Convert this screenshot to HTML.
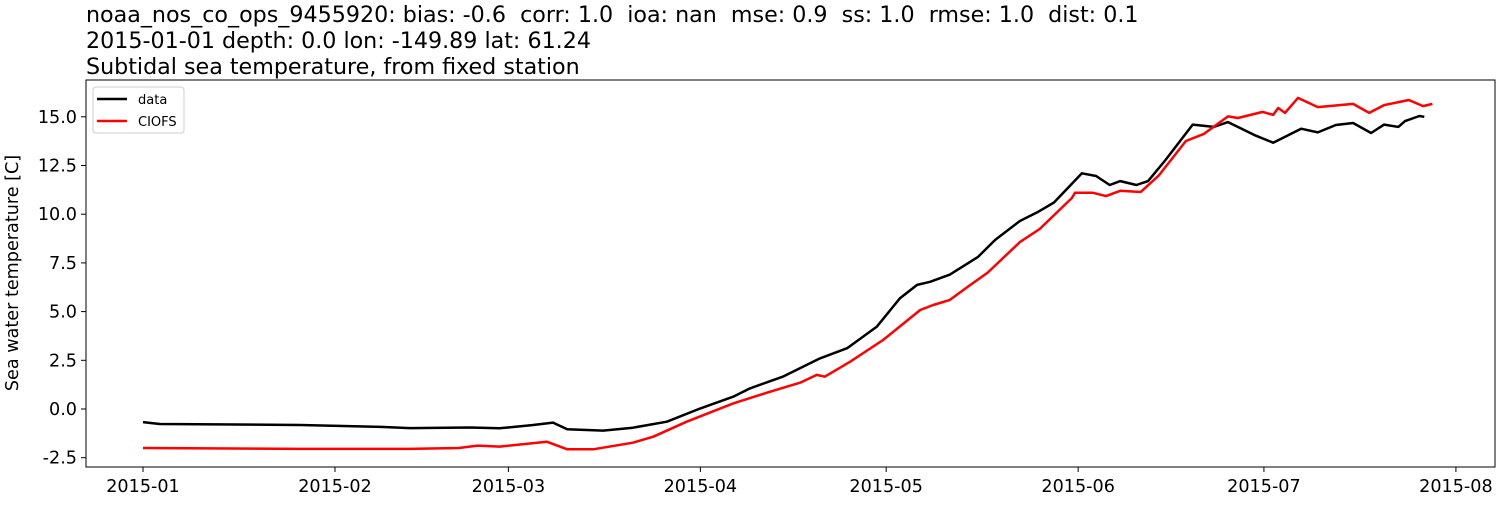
<!DOCTYPE html>
<html><head><meta charset="utf-8"><style>
body{margin:0;background:#fff;font-family:"Liberation Sans","DejaVu Sans",sans-serif;}
svg text{font-family:"DejaVu Sans","Liberation Sans",sans-serif;white-space:pre;}
</style></head><body>
<svg id="chart" width="1500" height="500" xmlns="http://www.w3.org/2000/svg" xml:space="preserve">
<text x="86" y="22" font-size="22.2">noaa_nos_co_ops_9455920: bias: -0.6  corr: 1.0  ioa: nan  mse: 0.9  ss: 1.0  rmse: 1.0  dist: 0.1</text>
<text x="86" y="48" font-size="22.2">2015-01-01 depth: 0.0 lon: -149.89 lat: 61.24</text>
<text x="86" y="74" font-size="22.2">Subtidal sea temperature, from fixed station</text>
<text transform="translate(18,273) rotate(-90)" text-anchor="middle" font-size="17.6">Sea water temperature [C]</text>
<g id="ticks"></g>
<g id="series"></g>
<rect x="86" y="80" width="1409" height="387" fill="none" stroke="#000" stroke-width="1"/>
<g>
<rect x="93" y="87" width="91" height="46" rx="3" fill="#fff" stroke="#ccc"/>
<line x1="97" y1="99" x2="127" y2="99" stroke="#000" stroke-width="2.5"/>
<text x="138" y="104" font-size="13">data</text>
<line x1="97" y1="121" x2="127" y2="121" stroke="#f00" stroke-width="2.5"/>
<text x="138" y="126" font-size="13">CIOFS</text>
</g>
</svg>
<script>
const yTicks=[-2.5,0.0,2.5,5.0,7.5,10.0,12.5,15.0];
const xTickLabels=["2015-01","2015-02","2015-03","2015-04","2015-05","2015-06","2015-07","2015-08"];
const xTickDays=[0,31,59,90,120,151,181,212];
const dataDays=[0,2.7,25.4,38.3,43.1,52.8,57.6,63,66.2,68.5,74.3,79.1,84.6,90,95.3,98,103.3,109.3,113.7,118.5,122.2,125,127.1,130.3,134.8,137.6,141.6,144.4,147.1,151.6,153.9,156.1,157.8,160.4,162.3,165.1,169.5,172.9,175.2,179.7,182.5,187,189.7,192.6,195.4,198.3,200.4,202.7,203.8,206.1,206.9];
const dataVals=[-0.67,-0.77,-0.82,-0.92,-0.98,-0.95,-0.99,-0.82,-0.7,-1.04,-1.11,-0.96,-0.65,0.03,0.63,1.06,1.66,2.6,3.12,4.23,5.68,6.37,6.53,6.9,7.8,8.68,9.65,10.1,10.6,12.1,11.96,11.5,11.7,11.5,11.7,12.78,14.6,14.48,14.73,14.03,13.67,14.39,14.2,14.58,14.68,14.17,14.6,14.48,14.78,15.04,15.0];
const ciofsDays=[0,25.4,43,51,54,57.6,65.2,68.5,72.7,79.1,82.4,87.8,95.3,100.8,106.1,108.8,110.1,114.2,119.5,125.5,127.6,130.3,133.1,136.4,141.6,144.8,150,150.5,153.4,155.5,157.8,161.1,164,168.4,171.3,175.2,176.8,180.8,182.5,183.3,184.4,186.5,189.7,195.4,198,200.4,204.4,206.7,208.2];
const ciofsVals=[-2.0,-2.05,-2.05,-2.0,-1.88,-1.93,-1.68,-2.07,-2.07,-1.73,-1.42,-0.65,0.29,0.84,1.35,1.75,1.66,2.43,3.54,5.08,5.34,5.6,6.26,7.0,8.57,9.24,10.83,11.1,11.1,10.93,11.2,11.14,11.98,13.76,14.12,15.02,14.94,15.25,15.1,15.45,15.2,15.97,15.5,15.66,15.2,15.6,15.86,15.55,15.66];
const NS="http://www.w3.org/2000/svg";
const xS=d=>143+d*6.193;
const yS=v=>409-v*19.48;
const tk=document.getElementById('ticks');
yTicks.forEach(v=>{
 const l=document.createElementNS(NS,'line');
 
 
 l.setAttribute('x1',81);l.setAttribute('x2',86);l.setAttribute('y1',yS(v));l.setAttribute('y2',yS(v));l.setAttribute('stroke','#000');
 tk.appendChild(l);
 const t=document.createElementNS(NS,'text');
 
 
 t.setAttribute('x',77);t.setAttribute('y',yS(v)+6);t.setAttribute('text-anchor','end');t.setAttribute('font-size','17.6');
 t.textContent=v.toFixed(1);tk.appendChild(t);
});
xTickDays.forEach((d,i)=>{
 const l=document.createElementNS(NS,'line');
 
 
 l.setAttribute('x1',xS(d));l.setAttribute('x2',xS(d));l.setAttribute('y1',467);l.setAttribute('y2',472);l.setAttribute('stroke','#000');
 tk.appendChild(l);
 const t=document.createElementNS(NS,'text');
 
 
 t.setAttribute('x',xS(d));t.setAttribute('y',492);t.setAttribute('text-anchor','middle');t.setAttribute('font-size','17.6');
 t.textContent=xTickLabels[i];tk.appendChild(t);
});
const sg=document.getElementById('series');
function line(days,vals,color,name){
 const p=document.createElementNS(NS,'polyline');
 
 
 p.setAttribute('points',days.map((d,i)=>xS(d).toFixed(1)+','+yS(vals[i]).toFixed(1)).join(' '));
 p.setAttribute('fill','none');p.setAttribute('stroke',color);p.setAttribute('stroke-width','2.5');p.setAttribute('stroke-linejoin','round');
 sg.appendChild(p);
}
line(dataDays,dataVals,'#000','data-line');
line(ciofsDays,ciofsVals,'#f00','ciofs-line');
</script>
</body></html>
